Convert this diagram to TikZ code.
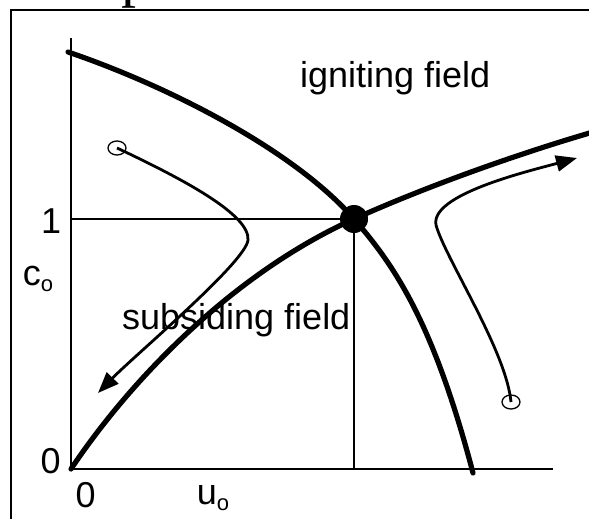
\documentclass[tikz,border=0pt]{standalone}
\usepackage{fontspec}
\setmainfont{Liberation Sans}
\newfontfamily\titlefont{Liberation Serif}
\usetikzlibrary{arrows.meta, shapes.geometric}

\newcommand{\lowsub}[1]{\raisebox{-6pt}{\fontsize{22}{24}\selectfont #1}}

\begin{document}
\begin{tikzpicture}[
    x=1pt, y=-1pt,
    frame/.style     = {line width=1.4pt},
    axis/.style      = {line width=1.7pt},
    guide/.style     = {line width=1.3pt},
    bound/.style     = {line width=5.2pt, line cap=round},
    traj/.style      = {line width=2.8pt, -{Triangle[length=21pt, width=16pt]}},
    startmark/.style = {draw, ellipse, line width=1.3pt, minimum width=18pt,
                        minimum height=14pt, inner sep=0pt},
    lab/.style       = {inner sep=0pt, anchor=base west,
                        font=\fontsize{36}{40}\selectfont},
  ]
  \useasboundingbox (0,0) rectangle (589,519);
  \clip (0,0) rectangle (589,519);

  %% frame and cut-off title
  \draw[frame] (11,519) -- (11,10) -- (589,10);
  \node[inner sep=0pt, anchor=base west,
        font=\titlefont\fontsize{60}{66}\selectfont] (title) at (121,-4) {p};

  %% axes
  \coordinate (O)    at (71,469);
  \coordinate (ytop) at (71,38);
  \coordinate (xend) at (553,469);
  \draw[axis] (ytop) -- (O) -- (xend);

  %% fixed point with guide lines
  \node[circle, fill, inner sep=0pt, minimum size=28pt] (fix) at (354,219) {};
  \coordinate (c1) at (71,219);
  \coordinate (u1) at (354,469);
  \draw[guide] (c1) -- (fix.center) -- (u1);

  %% separatrices
  \draw[bound] (68,52) .. controls (168,86) and (294,150) .. (fix.center)
               .. controls (394,265) and (433,321) .. (473,473);
  \draw[bound] (O) .. controls (131,379) and (234,273) .. (fix.center)
               .. controls (434,183) and (530,150) .. (600,130);

  %% trajectories
  \node[startmark] (s1) at (117,148) {};
  \node[startmark] (s2) at (511,402) {};
  \draw[traj] (s1.center) .. controls (185,180) and (250,215) .. (248,240)
              .. controls (246,262) and (135,355) .. (98,393);
  \draw[traj] (s2.center) .. controls (506,350) and (445,258) .. (436,225)
              .. controls (430,195) and (525,172) .. (577,158);

  %% labels
  \node[lab] (ign) at (300,88)    {igniting field};
  \node[lab] (sub) at (122,329)   {subsiding field};
  \node[lab] (one) at (41,233)    {1};
  \node[lab] (co)  at (22.6,285)  {c\lowsub{o}};
  \node[lab] (zy)  at (40.5,473)  {0};
  \node[lab] (zx)  at (75.5,507)  {0};
  \node[lab] (uo)  at (196.6,504) {u\lowsub{o}};
\end{tikzpicture}
\end{document}
